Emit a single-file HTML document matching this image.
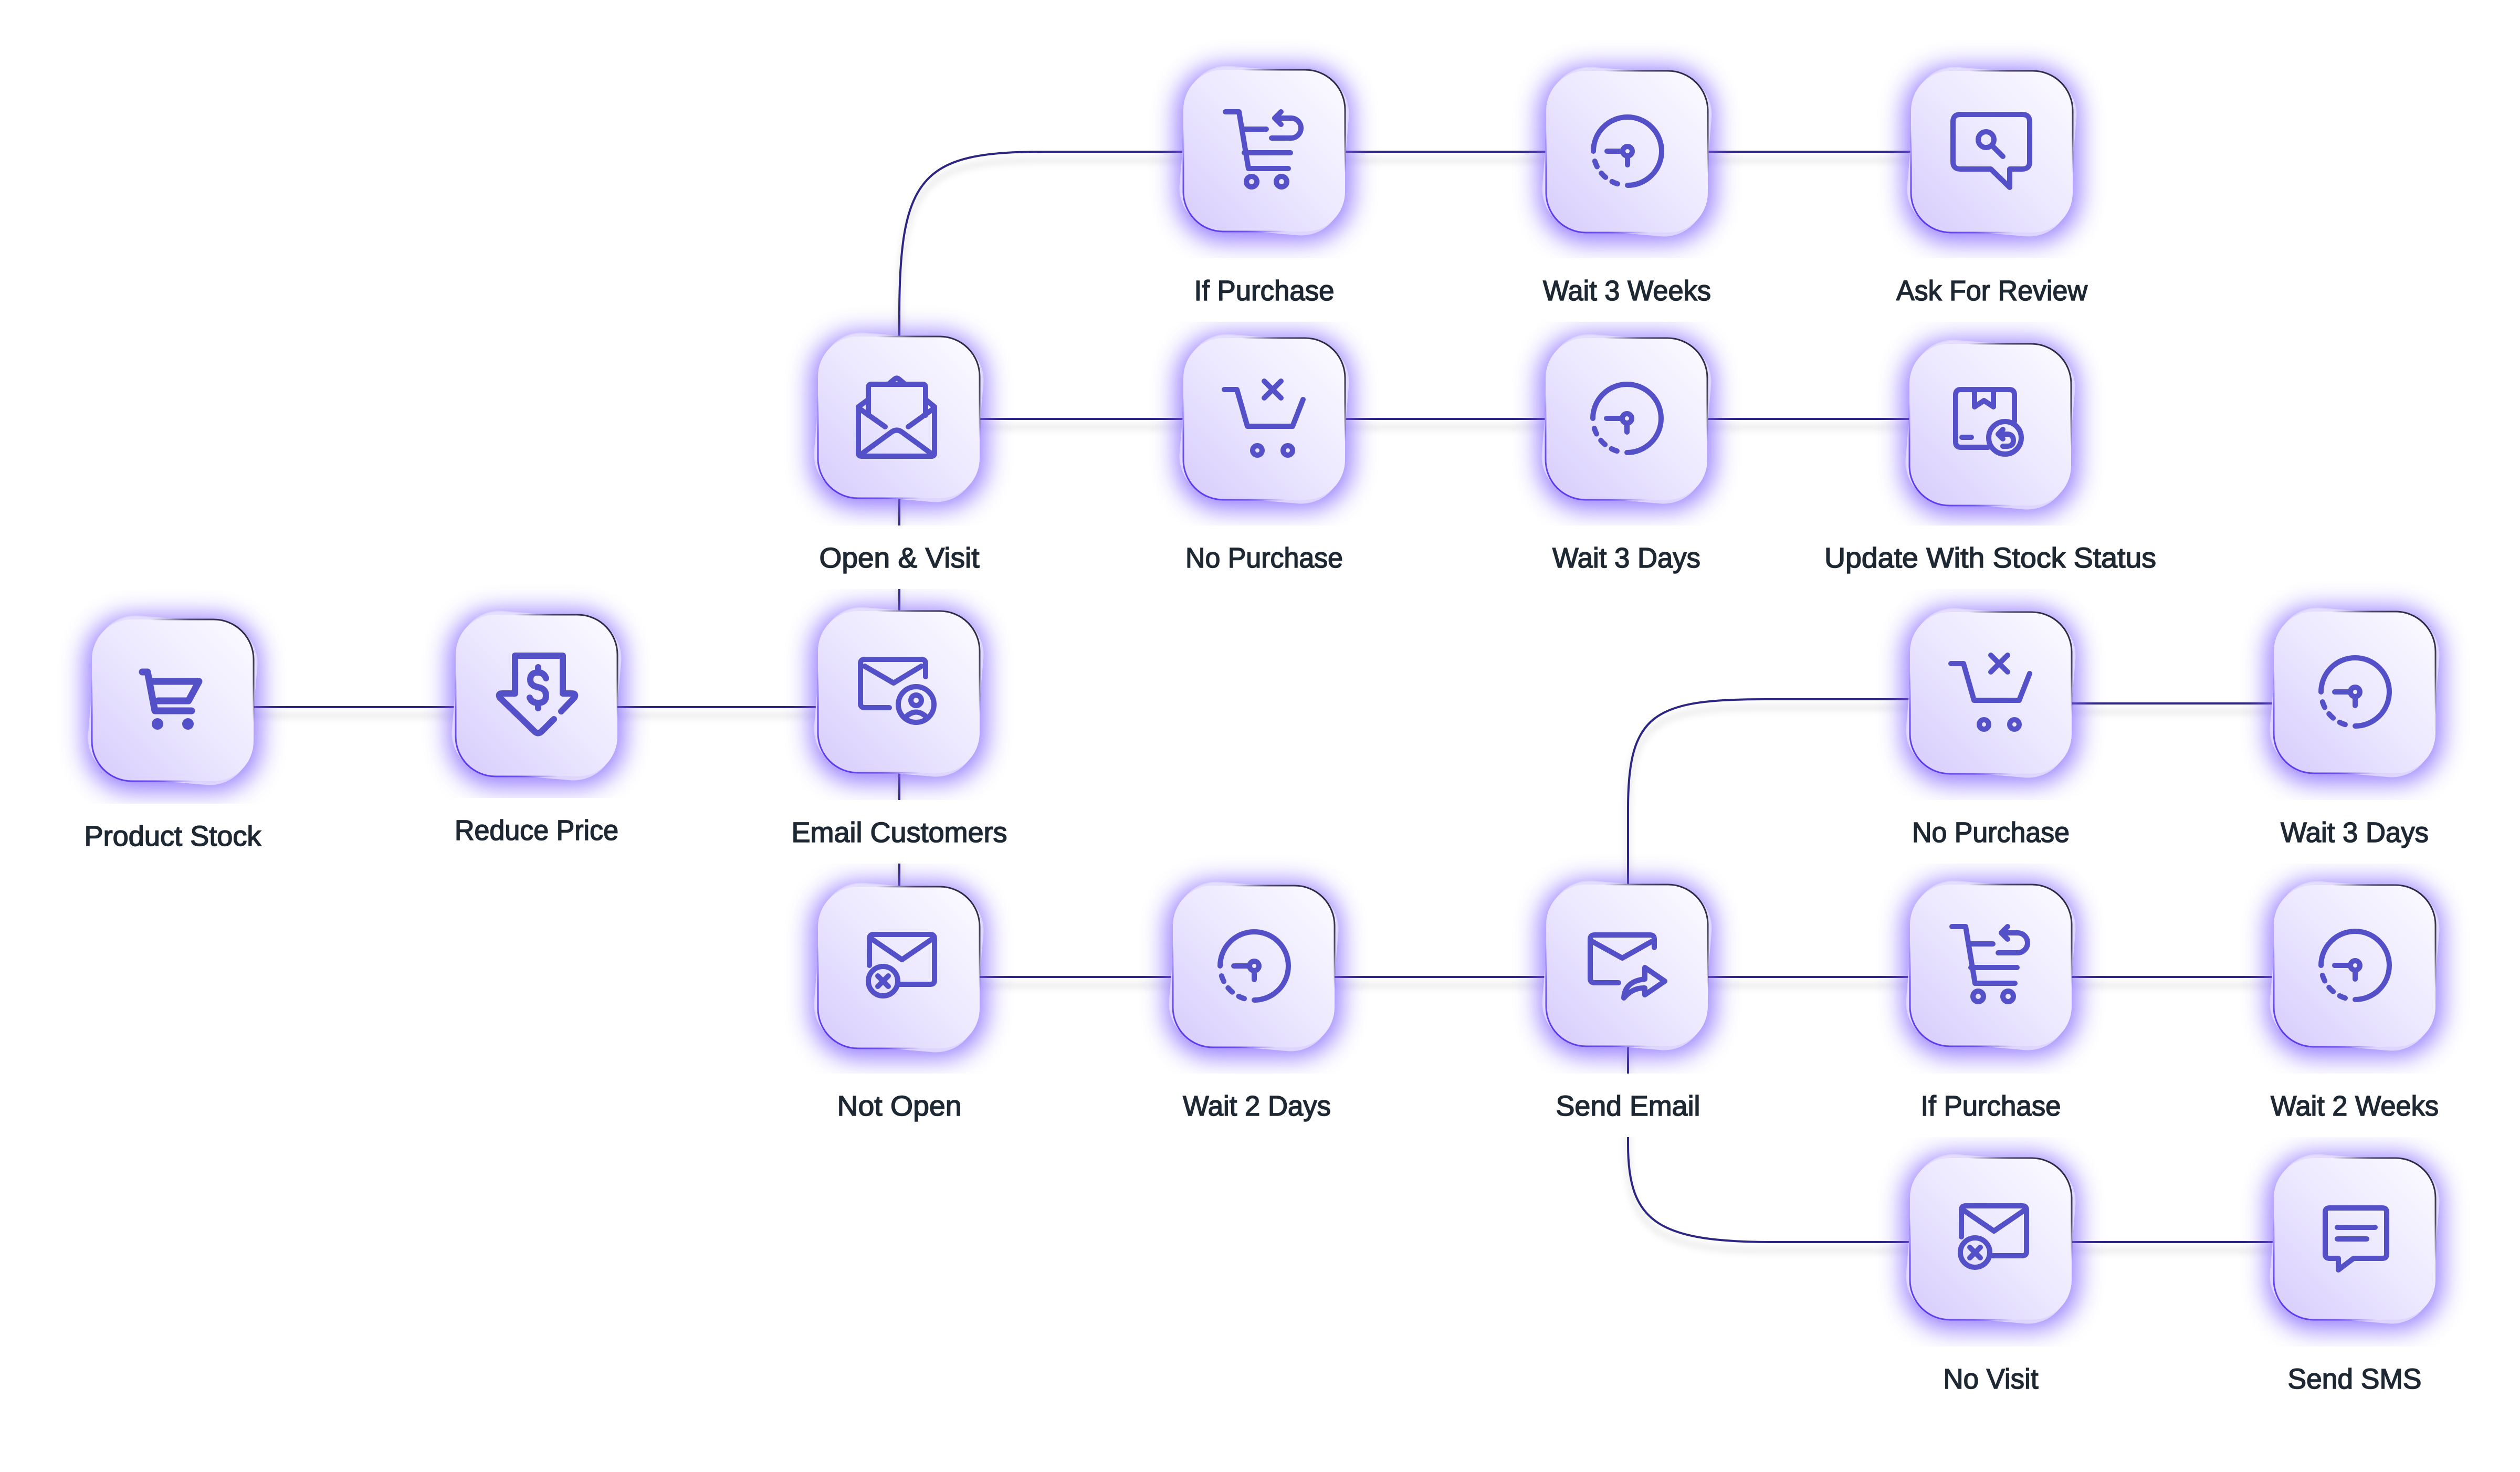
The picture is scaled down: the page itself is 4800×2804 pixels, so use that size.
<!DOCTYPE html>
<html>
<head>
<meta charset="utf-8">
<style>
html,body{margin:0;padding:0;background:#ffffff;width:4800px;height:2804px;overflow:hidden;}
svg{display:block;}
text{font-family:"Liberation Sans",Arial,sans-serif;font-size:54px;fill:#1e2833;stroke:#1e2833;stroke-width:1.6px;}
</style>
</head>
<body>
<svg width="4800" height="2804" viewBox="0 0 4800 2804" xmlns="http://www.w3.org/2000/svg" xmlns:xlink="http://www.w3.org/1999/xlink">
<defs>
  <filter id="glow" x="-60%" y="-60%" width="220%" height="220%"><feGaussianBlur stdDeviation="24"/></filter>
  <filter id="ls" x="-10%" y="-200%" width="120%" height="500%"><feGaussianBlur stdDeviation="6"/></filter>
  <linearGradient id="bg" x1="1" y1="0" x2="0" y2="1">
    <stop offset="0" stop-color="#fcfbff"/>
    <stop offset="0.5" stop-color="#ece8ff"/>
    <stop offset="1" stop-color="#d6ccfc"/>
  </linearGradient>
  <linearGradient id="bd" x1="1" y1="0" x2="0" y2="1">
    <stop offset="0" stop-color="#15132a"/>
    <stop offset="0.2" stop-color="#15132a" stop-opacity="0.7"/>
    <stop offset="0.32" stop-color="#15132a" stop-opacity="0"/>
    <stop offset="0.68" stop-color="#5a3df0" stop-opacity="0"/>
    <stop offset="0.8" stop-color="#5a3df0" stop-opacity="0.8"/>
    <stop offset="1" stop-color="#4a2ce8"/>
  </linearGradient>

  <g id="nb">
    <rect x="-12" y="-6" width="332" height="332" rx="88" fill="#7b5cff" opacity="0.82" filter="url(#glow)"/>
    <rect x="0" y="0" width="308" height="308" rx="76" fill="#f1eeff" fill-opacity="0.7" stroke="#ddd4ff" stroke-width="2" transform="rotate(5 154 154)"/>
    <rect x="0" y="0" width="308" height="308" rx="76" fill="url(#bg)"/>
    <rect x="0" y="0" width="308" height="308" rx="76" fill="none" stroke="url(#bd)" stroke-width="3"/>
  </g>

  <g id="ic-cartf">
    <g fill="none" stroke="#5451c8" stroke-width="13" stroke-linecap="round" stroke-linejoin="round">
      <path d="M96 100H106L120 174H190"/>
      <path d="M110 118H204L184 155H126"/>
    </g>
    <circle cx="125" cy="199" r="11" fill="#5451c8"/>
    <circle cx="183" cy="199" r="11" fill="#5451c8"/>
  </g>

  <g id="ic-price" fill="none" stroke="#5451c8" stroke-width="12" stroke-linecap="round" stroke-linejoin="round">
    <path d="M201 184L226 158Q230 150 222 150H204V78H113V150H88Q80 150 84 158L150 222Q157 229 164 222L187 199"/>
    <path d="M172 121Q168 110 157 110Q142 110 142 124Q142 135 157 138Q172 141 172 154Q172 168 157 168Q145 168 141 158M157 100V110M157 168V178"/>
  </g>

  <g id="ic-mailuser" fill="none" stroke="#5451c8" stroke-width="10" stroke-linecap="round" stroke-linejoin="round">
    <path d="M136 184H89Q81 184 81 176V100Q81 92 89 92H197Q205 92 205 100V125"/>
    <path d="M89 105L144 137L197 105"/>
    <circle cx="187" cy="178" r="34"/>
    <circle cx="187" cy="170" r="10"/>
    <path d="M166 203Q187 182 208 203"/>
  </g>

  <g id="ic-mailopen" fill="none" stroke="#5451c8" stroke-width="10" stroke-linecap="round" stroke-linejoin="round">
    <path d="M77 134V222Q77 228 83 228H216Q222 228 222 222V134"/>
    <path d="M77 134L96 120M222 134L205 120M134 91L146 81Q150 78 154 81L166 91"/>
    <path d="M96 150V97Q96 91 102 91H199Q205 91 205 97V150"/>
    <path d="M80 226L140 182Q150 175 160 182L220 226"/>
    <path d="M77 136L128 172M222 136L172 172"/>
  </g>

  <g id="ic-mailx" fill="none" stroke="#5451c8" stroke-width="10" stroke-linecap="round" stroke-linejoin="round">
    <path d="M98 150V99Q98 91 106 91H214Q222 91 222 99V178Q222 186 214 186H152"/>
    <path d="M103 100L160 139L217 100"/>
    <circle cx="124" cy="180" r="28"/>
    <path d="M114 170L134 190M134 170L114 190"/>
  </g>

  <g id="ic-mailsend" fill="none" stroke="#5451c8" stroke-width="10" stroke-linecap="round" stroke-linejoin="round">
    <path d="M138 187H92Q84 187 84 179V104Q84 96 92 96H198Q206 96 206 104V120"/>
    <path d="M89 109L145 140L200 109"/>
    <path d="M148 216Q150 184 188 180V158L226 184L188 210V197Q165 196 148 216Z"/>
  </g>

  <g id="ic-clock" fill="none" stroke="#5451c8" stroke-width="10" stroke-linecap="round" stroke-linejoin="round">
    <path d="M90 153A65 65 0 1 1 155 218"/>
    <path d="M136 215.2A65 65 0 0 1 125.5 210.9"/>
    <path d="M113.2 202.8A65 65 0 0 1 105.2 194.8"/>
    <path d="M97.1 182.5A65 65 0 0 1 92.8 172"/>
    <path d="M116 153H146"/>
    <circle cx="155" cy="153" r="9"/>
    <path d="M155 162V179"/>
  </g>

  <g id="ic-cartr">
    <g fill="none" stroke="#5451c8" stroke-width="10" stroke-linecap="round" stroke-linejoin="round">
      <path d="M80 80H106L124 188H200"/>
      <path d="M112 113H158"/>
      <path d="M116 158H204"/>
      <path d="M168 130H205A19 19 0 0 0 205 92H174"/>
      <path d="M186 80L174 92L186 104"/>
      <circle cx="130" cy="213" r="10"/>
      <circle cx="187" cy="213" r="10"/>
    </g>
  </g>

  <g id="ic-cartx" fill="none" stroke="#5451c8" stroke-width="10" stroke-linecap="round" stroke-linejoin="round">
    <path d="M78 98H102L122 168H208L228 117"/>
    <path d="M154 82L186 114M186 82L154 114"/>
    <circle cx="141" cy="214" r="9"/>
    <circle cx="199" cy="214" r="9"/>
  </g>

  <g id="ic-review" fill="none" stroke="#5451c8" stroke-width="10" stroke-linecap="round" stroke-linejoin="round">
    <path d="M152 187H94Q80 187 80 173V97Q80 83 94 83H212Q226 83 226 97V173Q226 187 212 187H188V222L152 187Z"/>
    <circle cx="143" cy="131" r="15"/>
    <path d="M155 143L175 163"/>
  </g>

  <g id="ic-update" fill="none" stroke="#5451c8" stroke-width="10" stroke-linecap="round" stroke-linejoin="round">
    <path d="M200 148V97Q200 87 190 87H98Q88 87 88 97V187Q88 197 98 197H150"/>
    <path d="M124 90V120L142 108L160 120V90"/>
    <path d="M100 178H118"/>
    <circle cx="182" cy="179" r="31"/>
    <path d="M171 172H186Q198 172 198 184Q198 195 186 195H178"/>
    <path d="M178 163L169 172L178 181"/>
  </g>

  <g id="ic-sms" fill="none" stroke="#5451c8" stroke-width="10" stroke-linecap="round" stroke-linejoin="round">
    <path d="M152 191H207Q215 191 215 183V103Q215 95 207 95H106Q98 95 98 103V183Q98 191 106 191H123V213Z"/>
    <path d="M121 132H193M121 154H177"/>
  </g>

  <g id="lines">
    <path d="M329 1347H1713"/>
    <path d="M1713 1843V600C1713 330 1760 289 1990 289H3794"/>
    <path d="M1713 798H3791"/>
    <path d="M3101 1840V1540C3101 1360 3150 1332 3360 1332H3792"/>
    <path d="M3792 1340H4485"/>
    <path d="M1713 1861H4485"/>
    <path d="M3101 1840V2180C3101 2330 3160 2366 3380 2366H4485"/>
  </g>
</defs>

<rect x="0" y="0" width="4800" height="2804" fill="#ffffff"/>

<use href="#lines" xlink:href="#lines" fill="none" stroke="#000000" stroke-opacity="0.07" stroke-width="12" transform="translate(0,16)" filter="url(#ls)"/>
<use href="#lines" xlink:href="#lines" fill="none" stroke="#2d2582" stroke-width="4"/>

<g transform="translate(175,1180)"><use href="#nb" xlink:href="#nb"/><use href="#ic-cartf" xlink:href="#ic-cartf"/></g>
<g transform="translate(868,1171)"><use href="#nb" xlink:href="#nb"/><use href="#ic-price" xlink:href="#ic-price"/></g>
<g transform="translate(1558,1164)"><use href="#nb" xlink:href="#nb"/><use href="#ic-mailuser" xlink:href="#ic-mailuser"/></g>
<g transform="translate(1558,641)"><use href="#nb" xlink:href="#nb"/><use href="#ic-mailopen" xlink:href="#ic-mailopen"/></g>
<g transform="translate(1558,1689)"><use href="#nb" xlink:href="#nb"/><use href="#ic-mailx" xlink:href="#ic-mailx"/></g>
<g transform="translate(2254,133)"><use href="#nb" xlink:href="#nb"/><use href="#ic-cartr" xlink:href="#ic-cartr"/></g>
<g transform="translate(2945,135)"><use href="#nb" xlink:href="#nb"/><use href="#ic-clock" xlink:href="#ic-clock"/></g>
<g transform="translate(3640,135)"><use href="#nb" xlink:href="#nb"/><use href="#ic-review" xlink:href="#ic-review"/></g>
<g transform="translate(2254,644)"><use href="#nb" xlink:href="#nb"/><use href="#ic-cartx" xlink:href="#ic-cartx"/></g>
<g transform="translate(2944,644)"><use href="#nb" xlink:href="#nb"/><use href="#ic-clock" xlink:href="#ic-clock"/></g>
<g transform="translate(3637,655)"><use href="#nb" xlink:href="#nb"/><use href="#ic-update" xlink:href="#ic-update"/></g>
<g transform="translate(3638,1166)"><use href="#nb" xlink:href="#nb"/><use href="#ic-cartx" xlink:href="#ic-cartx"/></g>
<g transform="translate(4331,1165)"><use href="#nb" xlink:href="#nb"/><use href="#ic-clock" xlink:href="#ic-clock"/></g>
<g transform="translate(2234,1687)"><use href="#nb" xlink:href="#nb"/><use href="#ic-clock" xlink:href="#ic-clock"/></g>
<g transform="translate(2945,1685)"><use href="#nb" xlink:href="#nb"/><use href="#ic-mailsend" xlink:href="#ic-mailsend"/></g>
<g transform="translate(3638,1685)"><use href="#nb" xlink:href="#nb"/><use href="#ic-cartr" xlink:href="#ic-cartr"/></g>
<g transform="translate(4331,1686)"><use href="#nb" xlink:href="#nb"/><use href="#ic-clock" xlink:href="#ic-clock"/></g>
<g transform="translate(3638,2206)"><use href="#nb" xlink:href="#nb"/><use href="#ic-mailx" xlink:href="#ic-mailx"/></g>
<g transform="translate(4331,2206)"><use href="#nb" xlink:href="#nb"/><use href="#ic-sms" xlink:href="#ic-sms"/></g>

<g fill="#ffffff">
  <rect x="160" y="1531" width="338" height="121"/>
  <rect x="866" y="1520" width="312" height="121"/>
  <rect x="1497" y="1524" width="432" height="121"/>
  <rect x="1558" y="1001" width="308" height="121"/>
  <rect x="1558" y="2045" width="308" height="121"/>
  <rect x="2254" y="492" width="308" height="121"/>
  <rect x="2945" y="492" width="308" height="121"/>
  <rect x="3610" y="492" width="368" height="121"/>
  <rect x="2254" y="1001" width="308" height="121"/>
  <rect x="2944" y="1001" width="308" height="121"/>
  <rect x="3465" y="1001" width="652" height="121"/>
  <rect x="3638" y="1524" width="308" height="121"/>
  <rect x="4331" y="1524" width="308" height="121"/>
  <rect x="2234" y="2045" width="308" height="121"/>
  <rect x="2945" y="2045" width="308" height="121"/>
  <rect x="3638" y="2045" width="308" height="121"/>
  <rect x="4331" y="2045" width="308" height="121"/>
  <rect x="3638" y="2565" width="308" height="121"/>
  <rect x="4331" y="2565" width="308" height="121"/>
</g>

<g text-anchor="middle">
  <text x="329" y="1611" textLength="337" lengthAdjust="spacingAndGlyphs">Product Stock</text>
  <text x="1022" y="1600" textLength="312" lengthAdjust="spacingAndGlyphs">Reduce Price</text>
  <text x="1713" y="1604" textLength="411" lengthAdjust="spacingAndGlyphs">Email Customers</text>
  <text x="1713" y="1081" textLength="305" lengthAdjust="spacingAndGlyphs">Open &amp; Visit</text>
  <text x="1713" y="2125" textLength="237" lengthAdjust="spacingAndGlyphs">Not Open</text>
  <text x="2408" y="572" textLength="267" lengthAdjust="spacingAndGlyphs">If Purchase</text>
  <text x="3099" y="572" textLength="320" lengthAdjust="spacingAndGlyphs">Wait 3 Weeks</text>
  <text x="3794" y="572" textLength="364" lengthAdjust="spacingAndGlyphs">Ask For Review</text>
  <text x="2408" y="1081" textLength="300" lengthAdjust="spacingAndGlyphs">No Purchase</text>
  <text x="3098" y="1081" textLength="282" lengthAdjust="spacingAndGlyphs">Wait 3 Days</text>
  <text x="3791" y="1081" textLength="632" lengthAdjust="spacingAndGlyphs">Update With Stock Status</text>
  <text x="3792" y="1604" textLength="300" lengthAdjust="spacingAndGlyphs">No Purchase</text>
  <text x="4485" y="1604" textLength="282" lengthAdjust="spacingAndGlyphs">Wait 3 Days</text>
  <text x="2394" y="2125" textLength="282" lengthAdjust="spacingAndGlyphs">Wait 2 Days</text>
  <text x="3101" y="2125" textLength="275" lengthAdjust="spacingAndGlyphs">Send Email</text>
  <text x="3792" y="2125" textLength="267" lengthAdjust="spacingAndGlyphs">If Purchase</text>
  <text x="4485" y="2125" textLength="320" lengthAdjust="spacingAndGlyphs">Wait 2 Weeks</text>
  <text x="3792" y="2645" textLength="181" lengthAdjust="spacingAndGlyphs">No Visit</text>
  <text x="4485" y="2645" textLength="255" lengthAdjust="spacingAndGlyphs">Send SMS</text>
</g>
</svg>
</body>
</html>
